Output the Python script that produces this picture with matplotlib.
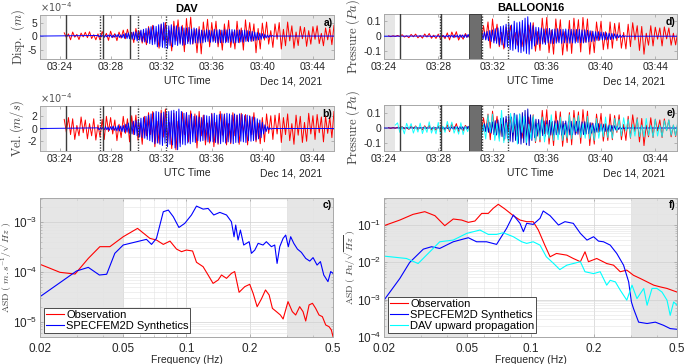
import numpy as np
import matplotlib
matplotlib.use('Agg')
import matplotlib.pyplot as plt
import matplotlib.dates as mdates
from matplotlib.ticker import NullFormatter

plt.rcParams['font.family'] = ['Liberation Sans', 'DejaVu Sans']
plt.rcParams['mathtext.fontset'] = 'dejavusans'

# ---------------- waveform data ----------------
# DAV displacement, observation (units 1e-5 m), every 10 s from 03:24:20
dav_disp_obs = [12, -5, 8, -14,
    15, -4, 6, -13, 11, -3,    14, -6, 16, -9, 5, -14,
    8, -15, 17, -4, 10, -16,   18, -6, 9, -17, 15, -8,
    22, -10, 25, -6, 14, -24,  28, -9, 18, -26, 10, -32,
    35, -12, 40, -20, 15, -45, 42, -15, 50, -35, 20, -55,
    55, -18, 60, -25, 40, -58, 65, -20, 70, -30, 25, -62,
    35, -66, 52, -15, 62, -40, 50, -18, 55, -40, 22, -52,
    45, -20, 58, -42, 15, -48, 55, -25, 30, -52, 60, -18,
    50, -20, 45, -62, 28, -48, 48, -15, 52, -30, 20, -42,
    45, -12, 50, -48, 25, -36, 52, -18, 38, -45, 15, -35,
    36, -10, 32, -38, 20, -30, 35, -12, 38, -28, 10, -36,
    30, -14, 28, -32, 40]
# DAV displacement, SPECFEM2D (units 1e-5 m), every 6 s from 03:27:00
dav_disp_syn = [2, -3, 4, -2, 3, -4, 3, -3, 4, -2,
    4, -5, 3, -4, 5, -3, 6, -5, 4, -6,
    7, -8, 10, -9, 12, -10, 14, -12, 15, -13,
    16, -18, 20, -15, 22, -20, 25, -22, 28, -25,
    30, -28, 35, -32, 38, -30, 36, -40, 42, -38,
    45, -42, 50, -44, 40, -46, 38, -35, 42, -40,
    36, -32, 38, -35, 33, -30, 35, -34, 30, -32,
    30, -28, 32, -30, 26, -28, 30, -25, 28, -26,
    24, -26, 22, -25, 20, -22, 24, -20, 22, -23,
    20, -22, 25, -24, 23, -26, 24, -25, 22, -24,
    24, -25, 23, -24, 25, -22, 24, -26, 23, -25,
    22, -24, 23, -22, 21, -23, 22, -20, 20, -21,
    18, -19, 17, -18, 15, -16, 13, -14, 11, -12,
    9, -8, 6, -7, 4, -5, 3, -2, 2, -1,
    0]
# DAV velocity, observation (units 1e-5 m/s), every 10 s from 03:24:20
dav_vel_obs = [15, -6, 18, -10,
    16, -18, 5, -12, 19, -7,    14, -17, 8, -12, 16, -19,
    6, -14, 15, -18, 20, -5,    18, -9, 14, -20, 7, -15,
    20, -8, 16, -22, 21, -10,   22, -19, 9, -26, 20, -12,
    26, -10, 28, -30, 12, -24,  30, -14, 32, -25, 10, -33,
    25, -35, 12, -24, 27, -10,  26, -22, 29, -8, 24, -32,
    28, -12, 22, -27, 9, -24,   25, -30, 10, -26, 28, -11,
    24, -27, 8, -25, 26, -12,   22, -26, 25, -8, 23, -27,
    21, -10, 26, -22, 9, -25,   18, -22, 24, -8, 21, -18,
    22, -9, 25, -23, 18, -10,   24, -20, 8, -26, 22, -11,
    20, -23, 10, -21, 25, -9,   21, -18, 23, -7, 19, -22,
    20, -8, 18, -15, 28]
# DAV velocity, SPECFEM2D (units 1e-5 m/s), every 6 s from 03:27:00
dav_vel_syn = [1, -2, 2, -1, 2, -2, 3, -2, 2, -3,
    3, -2, 4, -3, 3, -4, 5, -4, 4, -5,
    5, -6, 7, -6, 9, -8, 10, -9, 12, -10,
    13, -12, 15, -14, 17, -15, 18, -16, 20, -18,
    22, -20, 24, -22, 26, -25, 28, -24, 27, -26,
    25, -28, 27, -24, 26, -30, 28, -26, 29, -27,
    30, -32, 28, -35, 32, -30, 28, -26, 25, -27,
    26, -24, 22, -25, 24, -22, 20, -23, 21, -20,
    19, -21, 18, -20, 22, -19, 21, -22, 20, -21,
    24, -22, 25, -23, 22, -24, 23, -25, 24, -22,
    23, -24, 25, -22, 24, -23, 22, -25, 24, -23,
    22, -23, 24, -21, 23, -22, 21, -23, 22, -20,
    20, -21, 19, -20, 18, -19, 16, -17, 14, -15,
    10, -9, 6, -5, 3, -2, 1, -1, 0, 0,
    0]
# BALLOON16 pressure, observation (units 1e-3 Pa), every 10 s from 03:24:20
bal_obs = [2, -3, 3, -2,
    5, -2, 10, -6, 3, -10,         12, -4, 14, -11, 5, -13,
    15, -6, 18, -14, 7, -15,       14, -18, 6, -16, 22, -25,
    28, -10, 30, -26, 8, -20,      18, -6, 12, -14, 5, -12,
    30, -45, 70, -20, 95, -80,     115, -30, 80, -70, 25, -85,
    60, -20, 70, -50, 25, -60,     55, -70, 20, -65, 75, -30,
    90, -100, 30, -95, 120, -40,   125, -110, 40, -120, 115, -35,
    110, -125, 30, -100, 105, -115, 120, -35, 110, -105, 125, -40,
    115, -120, 35, -110, 95, -30,  100, -90, 30, -85, 95, -80,
    85, -30, 90, -80, 25, -85,     80, -70, 90, -25, 70, -95,
    65, -120, 20, -60, 70, -65,    60, -20, 55, -65, 62, -18,
    55, -60, 20, -58, 40]
# BALLOON16 pressure, SPECFEM2D (units 1e-3 Pa), every 6 s from 03:27:00
bal_syn = [1, -1, 2, -1, 2, -2, 1, -2, 2, -1,
    3, -4, 5, -3, 4, -6, 5, -4, 6, -5,
    6, -7, 8, -6, 7, -8, 9, -7, 8, -9,
    10, -8, 12, -10, 9, -11, 10, -12, 11, -9,
    15, -18, 22, -20, 28, -25, 32, -30, 38, -35,
    42, -45, 50, -48, 55, -60, 65, -58, 70, -75,
    80, -70, 85, -90, 75, -95, 100, -85, 90, -105,
    95, -110, 105, -100, 120, -115, 130, -120, 90, -85,
    70, -65, 60, -55, 58, -50, 55, -52, 48, -55,
    50, -45, 52, -48, 45, -50, 48, -46, 50, -44,
    45, -48, 46, -44, 48, -45, 44, -47, 46, -45,
    44, -46, 45, -43, 46, -44, 42, -45, 43, -41,
    40, -38, 36, -35, 32, -34, 30, -28, 30, -26,
    28, -25, 26, -24, 22, -25, 20, -22, 18, -20,
    16, -14, 12, -10, 8, -7, 5, -4, 2, -1,
    0]
# DAV upward propagation to balloon (units 1e-3 Pa), every 10 s from 03:24:50
bal_dav_up = [20,
    35, -30, 10, -40, 32, -8,    30, -35, 12, -28, 33, -38,
    10, -30, 42, -35, 8, -40,    38, -42, 12, -30, 45, -15,
    40, -35, 10, -42, 36, -45,   12, -25, 20, -8, 35, -40,
    60, -70, 25, -75, 90, -30,   95, -85, 30, -90, 120, -100,
    35, -95, 100, -30, 90, -110, 95, -30, 80, -100, 25, -75,
    85, -90, 30, -80, 75, -95,   25, -70, 90, -85, 30, -80,
    75, -85, 25, -70, 90, -75,   70, -25, 85, -65, 30, -70,
    80, -75, 20, -85, 65, -70,   25, -60, 75, -65, 20, -70,
    65, -20, 60, -55, 70, -20,   60, -65, 25, -55, 62, -58,
    20, -60, 65, -50, 18, -62,   60, -55, 20, -60, 50, -18,
    55, -50, 20, -52, 50]

# ---------------- spectra ----------------
dav_f_obs = [0.0200, 0.0223, 0.0249, 0.0294, 0.0340, 0.0386, 0.0431, 0.0499, 0.0584, 0.0669,
             0.0719, 0.0775, 0.0834, 0.0896, 0.0947, 0.0999, 0.1069, 0.1116, 0.1200, 0.1268,
             0.1339, 0.1416, 0.1469, 0.1552, 0.1638, 0.1698, 0.1782, 0.1897, 0.2003, 0.2079,
             0.2173, 0.2277, 0.2382, 0.2479, 0.2570, 0.2685, 0.2805, 0.2890, 0.3050, 0.3198,
             0.3318, 0.3467, 0.3597, 0.3705, 0.3845, 0.3990, 0.4133, 0.4288, 0.4449, 0.4615,
             0.4788, 0.4910, 0.5000]
dav_asd_obs = [1.43e-4, 1.19e-4, 9.85e-5, 9.1e-5, 1.88e-4, 3.24e-4, 3.24e-4, 5.14e-4, 7.57e-4, 4.76e-4,
               4.41e-4, 3.6e-4, 4.2e-4, 2.9e-4, 2.57e-4, 2.77e-4, 2.65e-4, 1.57e-4, 1.28e-4, 8.7e-5,
               5.9e-5, 6.9e-5, 8.7e-5, 7.45e-5, 9.4e-5, 1.02e-4, 3.9e-5, 5.07e-5, 5.65e-5, 3.72e-5,
               2.0e-5, 2.86e-5, 4.35e-5, 3.44e-5, 1.85e-5, 1.59e-5, 1.36e-5, 1.13e-5, 2.53e-5, 1.59e-5,
               1.36e-5, 2.0e-5, 1.59e-5, 1.03e-5, 2.17e-5, 2.34e-5, 1.85e-5, 1.36e-5, 1.26e-5, 8.57e-6,
               7.9e-6, 6.8e-6, 5.0e-6]
dav_f_syn = [0.0200, 0.0299, 0.0340, 0.0384, 0.0416, 0.0455, 0.0499, 0.0644, 0.0681, 0.0719,
             0.0775, 0.0819, 0.0865, 0.0920, 0.0981, 0.1056, 0.1116, 0.1200, 0.1268, 0.1349,
             0.1442, 0.1552, 0.1638, 0.1686, 0.1717, 0.1762, 0.1808, 0.1875, 0.1990, 0.2041,
             0.2118, 0.2197, 0.2319, 0.2404, 0.2541, 0.2636, 0.2705, 0.2786, 0.2890, 0.2974,
             0.3060, 0.3141, 0.3250, 0.3382, 0.3532, 0.3705, 0.3873, 0.4017, 0.4197, 0.4355,
             0.4518, 0.4731, 0.4875, 0.5000]
dav_asd_syn = [3.18e-5, 1.05e-4, 1.24e-4, 8.7e-5, 9.0e-5, 2.38e-4, 3.5e-4, 4.55e-4, 3.6e-4, 4.76e-4,
               1.64e-3, 1.77e-3, 1.30e-3, 7.9e-4, 9.55e-4, 1.41e-3, 2.13e-3, 1.85e-3, 1.91e-3, 1.41e-3,
               1.59e-3, 1.41e-3, 1.03e-3, 5.14e-4, 8.84e-4, 4.41e-4, 7.0e-4, 3.5e-4, 4.08e-4, 2.38e-4,
               2.77e-4, 3.78e-4, 3.5e-4, 4.08e-4, 3.24e-4, 3.5e-4, 1.49e-4, 3.24e-4, 4.76e-4, 5.56e-4,
               3.24e-4, 5.14e-4, 3.78e-4, 2.9e-4, 2.49e-4, 1.88e-4, 1.66e-4, 1.95e-4, 1.38e-4, 1.62e-4,
               8.7e-5, 6.4e-5, 1.02e-4, 9.4e-5]
bal_f_obs = [0.0200, 0.0238, 0.0275, 0.0313, 0.0350, 0.0390, 0.0428, 0.0469, 0.0505, 0.0543,
             0.0585, 0.0629, 0.0664, 0.0702, 0.0755, 0.0828, 0.0891, 0.0959, 0.103, 0.109,
             0.117, 0.124, 0.133, 0.149, 0.160, 0.173, 0.182, 0.189, 0.207, 0.231,
             0.249, 0.268, 0.288, 0.310, 0.334, 0.360, 0.387, 0.416, 0.448, 0.500]
bal_asd_obs = [0.096, 0.136, 0.193, 0.228, 0.178, 0.096, 0.145, 0.136, 0.118, 0.128,
               0.205, 0.205, 0.281, 0.359, 0.269, 0.178, 0.136, 0.123, 0.123, 0.0734,
               0.0290, 0.0141, 0.0173, 0.0156, 0.0127, 0.0104, 0.0192, 0.0104, 0.0127, 0.0093,
               0.0084, 0.0056, 0.0062, 0.0045, 0.0037, 0.0030, 0.00245, 0.0022, 0.0020, 0.0016]
bal_f_syn = [0.0200, 0.0238, 0.0265, 0.0308, 0.0337, 0.0369, 0.0428, 0.0505, 0.0553, 0.0617,
             0.0689, 0.0769, 0.0828, 0.0891, 0.0925, 0.0959, 0.103, 0.111, 0.115, 0.124,
             0.136, 0.146, 0.160, 0.173, 0.186, 0.200, 0.211, 0.223, 0.240, 0.258,
             0.278, 0.294, 0.303, 0.310, 0.328, 0.360, 0.394, 0.431, 0.464, 0.500]
bal_asd_syn = [9.7e-4, 3.7e-3, 9.9e-3, 0.0226, 0.0262, 0.0236, 0.0356, 0.0457, 0.0356, 0.0356,
               0.0303, 0.0813, 0.186, 0.111, 0.0662, 0.111, 0.104, 0.151, 0.238, 0.178,
               0.100, 0.123, 0.111, 0.0597, 0.0395, 0.0486, 0.0371, 0.0356, 0.0290, 0.0173,
               0.0084, 0.0030, 8.7e-4, 5.8e-4, 2.5e-4, 2.3e-4, 2.5e-4, 2.06e-4, 1.68e-4, 1.61e-4]
bal_f_up = [0.0200, 0.0256, 0.0291, 0.0337, 0.0369, 0.0428, 0.0496, 0.0574, 0.0629, 0.0689,
            0.0741, 0.0828, 0.0908, 0.0959, 0.103, 0.111, 0.119, 0.129, 0.138, 0.149,
            0.160, 0.173, 0.182, 0.200, 0.215, 0.231, 0.240, 0.254, 0.268, 0.288,
            0.305, 0.322, 0.347, 0.360, 0.380, 0.401, 0.424, 0.448, 0.464, 0.482, 0.500]
bal_asd_up = [0.0147, 0.0127, 0.0093, 0.0213, 0.0356, 0.0395, 0.0597, 0.0734, 0.0561, 0.0561,
              0.0622, 0.0486, 0.0356, 0.0322, 0.0356, 0.0290, 0.0141, 0.0093, 0.0064, 0.0084,
              0.0093, 0.0104, 0.0056, 0.0050, 0.0056, 0.00245, 0.0033, 0.0030, 0.0018, 9.7e-4,
              0.00245, 1.07e-3, 0.0020, 7.1e-4, 0.0020, 0.0020, 0.0016, 9.7e-4, 3.8e-4, 8.7e-4, 7.1e-4]

# picked arrivals (solid) and dotted markers
dav_solid = ['03:24:27', '03:27:24', '03:29:30']
dav_dotted = ['03:27:12', '03:30:12', '03:32:24']
bal_solid = ['03:25:10', '03:28:10']
bal_dotted = ['03:28:06', '03:31:12', '03:33:10']
bal_window = ('03:30:14', '03:31:09')


def hm(s):
    return np.datetime64('2021-12-14T' + s)


def tgrid(start, n, step):
    return hm(start) + np.arange(n) * np.timedelta64(step, 's')


W, H = 685, 364
fig = plt.figure(figsize=(W / 100, H / 100), dpi=100)


def px_axes(l, t, r, b):
    return fig.add_axes([l / W, 1 - b / H, (r - l) / W, (b - t) / H])


FRAME = '#a8a8a8'
TXT = '#262626'
GRAY = '#e6e6e6'


def style(ax, size):
    for s in ax.spines.values():
        s.set_color(FRAME)
        s.set_linewidth(0.7)
    ax.tick_params(direction='in', top=True, right=True, colors=FRAME,
                   labelcolor=TXT, labelsize=size, length=2.5, width=0.6, pad=2)
    ax.tick_params(which='minor', direction='in', top=True, right=True,
                   colors=FRAME, length=1.5, width=0.4)


def time_panel(ax, xlim, shade, ylim, yticks, yticklabels, ylabel, letter,
               solids, dots, window=None, expo=None):
    ax.set_xlim(hm(xlim[0]), hm(xlim[1]))
    ax.set_ylim(*ylim)
    ax.axvspan(hm(xlim[0]), hm(shade[0]), color=GRAY, lw=0, zorder=0)
    ax.axvspan(hm(shade[1]), hm(xlim[1]), color=GRAY, lw=0, zorder=0)
    if window:
        ax.axvspan(hm(window[0]), hm(window[1]), facecolor='#6e6e6e',
                   edgecolor='#303030', lw=0.6, zorder=5)
    for s in solids:
        ax.axvline(hm(s), color='#3c3c3c', lw=1.0, zorder=6)
    for s in dots:
        ax.axvline(hm(s), color='#3c3c3c', lw=1.0, ls=(0, (1, 1)), zorder=6)
    ax.set_yticks(yticks)
    ax.set_yticklabels(yticklabels)
    ax.xaxis.set_major_locator(mdates.MinuteLocator(byminute=range(0, 60, 4)))
    ax.xaxis.set_major_formatter(mdates.DateFormatter('%H:%M'))
    style(ax, 7.5)
    ax.set_ylabel(ylabel, fontsize=9, color='#404040', math_fontfamily='cm', labelpad=1)
    ax.annotate('UTC Time', (0.5, 0), xycoords='axes fraction', xytext=(0, -16),
                textcoords='offset points', ha='center', va='center', fontsize=7.5, color=TXT)
    ax.annotate('Dec 14, 2021', (0.96, 0), xycoords='axes fraction', xytext=(0, -16),
                textcoords='offset points', ha='right', va='center', fontsize=7.5, color=TXT)
    ax.text(0.995, 0.93, letter, transform=ax.transAxes, ha='right', va='top',
            fontsize=7.5, fontweight='bold', zorder=10)
    if expo:
        ax.text(0.0, 1.02, expo, transform=ax.transAxes, ha='left', va='bottom',
                fontsize=7, color='#505050')


def spec_panel(ax, ylim, ylabel, letter):
    ax.set_xscale('log')
    ax.set_yscale('log')
    ax.set_xlim(0.02, 0.5)
    ax.set_ylim(*ylim)
    ax.axvspan(0.02, 0.05, color=GRAY, lw=0, zorder=0)
    ax.axvspan(0.3, 0.5, color=GRAY, lw=0, zorder=0)
    ax.set_axisbelow(True)
    ax.grid(True, which='major', color='#d0d0d0', lw=0.5)
    ax.grid(True, which='minor', color='#e4e4e4', lw=0.4)
    ax.set_xticks([0.02, 0.05, 0.1, 0.2, 0.5])
    ax.set_xticklabels(['0.02', '0.05', '0.1', '0.2', '0.5'])
    ax.xaxis.set_minor_formatter(NullFormatter())
    ax.yaxis.set_minor_formatter(NullFormatter())
    style(ax, 8.5)
    ax.tick_params(axis='x', pad=4)
    ax.set_xlabel('Frequency (Hz)', fontsize=7.5, color=TXT, labelpad=0.5)
    ax.set_ylabel(ylabel, fontsize=7, color='#404040', math_fontfamily='cm')
    ax.yaxis.set_label_coords(-26 / 293, 0.5)
    ax.text(0.995, 0.985, letter, transform=ax.transAxes, ha='right', va='top',
            fontsize=7.5, fontweight='bold', zorder=10)


def baseline(t, v, lim):
    tt = np.concatenate([[hm(lim[0])], t, [hm(lim[1])]])
    vv = np.concatenate([[0], v, [0]])
    return tt, vv


def add_legend(ax):
    leg = ax.legend(loc='lower left', fontsize=8, frameon=True, fancybox=False, framealpha=1,
                    edgecolor='#303030', borderaxespad=0.4, handlelength=1.6,
                    handletextpad=0.2, labelspacing=0.1, borderpad=0.15)
    leg.get_frame().set_linewidth(0.6)


dav_lim = ('03:22:25', '03:45:40')
bal_lim = ('03:24:00', '03:45:36')
LW = 0.7

# a) DAV displacement
ax = px_axes(40, 15, 334, 59)
ax.plot(tgrid('03:24:20', len(dav_disp_obs), 10), np.array(dav_disp_obs) / 10,
        color='red', lw=LW, zorder=2)
tb, vb = baseline(tgrid('03:27:00', len(dav_disp_syn), 6), np.array(dav_disp_syn) / 10, dav_lim)
ax.plot(tb, vb, color='blue', lw=LW, zorder=3)
time_panel(ax, dav_lim, ('03:22:57', '03:41:30'), (-8.5, 7.8), [-5, 0, 5], ['-5', '0', '5'],
           r'$\mathrm{Disp.}\ (m)$', 'a)', dav_solid, dav_dotted, expo=r'$\times10^{-4}$')
ax.set_title('DAV', fontsize=8, fontweight='bold', pad=2)

# b) DAV velocity
ax = px_axes(40, 106, 334, 151)
ax.plot(tgrid('03:24:20', len(dav_vel_obs), 10), np.array(dav_vel_obs) / 10,
        color='red', lw=LW, zorder=2)
tb, vb = baseline(tgrid('03:27:00', len(dav_vel_syn), 6), np.array(dav_vel_syn) / 10, dav_lim)
ax.plot(tb, vb, color='blue', lw=LW, zorder=3)
time_panel(ax, dav_lim, ('03:22:57', '03:41:30'), (-3.7, 3.7), [-2, 0, 2], ['-2', '0', '2'],
           r'$\mathrm{Vel.}(m/s)$', 'b)', dav_solid, dav_dotted, expo=r'$\times10^{-4}$')

# d) BALLOON16 pressure
ax = px_axes(384, 14, 677, 59)
ax.plot(tgrid('03:24:20', len(bal_obs), 10), np.array(bal_obs) / 1000,
        color='red', lw=LW, zorder=2)
tb, vb = baseline(tgrid('03:27:00', len(bal_syn), 6), np.array(bal_syn) / 1000, bal_lim)
ax.plot(tb, vb, color='blue', lw=LW, zorder=3)
time_panel(ax, bal_lim, ('03:24:48', '03:42:08'), (-0.152, 0.148), [-0.1, 0, 0.1],
           ['-0.1', '0', '0.1'], r'$\mathrm{Pressure}\ (Pa)$', 'd)', bal_solid, bal_dotted,
           window=bal_window)
ax.set_title('BALLOON16', fontsize=8, fontweight='bold', pad=2)

# e) BALLOON16 pressure with DAV upward propagation
ax = px_axes(384, 105, 677, 151)
ax.plot(tgrid('03:24:20', len(bal_obs), 10), np.array(bal_obs) / 1000,
        color='red', lw=LW, zorder=2)
tb, vb = baseline(tgrid('03:27:00', len(bal_syn), 6), np.array(bal_syn) / 1000, bal_lim)
ax.plot(tb, vb, color='#0000c8', lw=LW, zorder=3)
ax.plot(tgrid('03:24:50', len(bal_dav_up), 10), np.array(bal_dav_up) / 1000, color='cyan',
        lw=LW, zorder=4, alpha=0.9)
time_panel(ax, bal_lim, ('03:24:48', '03:42:08'), (-0.157, 0.157), [-0.1, 0, 0.1],
           ['-0.1', '0', '0.1'], r'$\mathrm{Pressure}\ (Pa)$', 'e)', bal_solid, bal_dotted,
           window=bal_window)

# c) DAV spectra
ax = px_axes(40, 198, 333, 337)
ax.plot(dav_f_obs, dav_asd_obs, color='red', lw=0.8, label='Observation')
ax.plot(dav_f_syn, dav_asd_syn, color='blue', lw=0.8, label='SPECFEM2D Synthetics')
spec_panel(ax, (4.9e-6, 3.1e-3), r'$\mathrm{ASD}\ (\ m.s^{-1}/\sqrt{Hz}\ )$', 'c)')
add_legend(ax)

# f) BALLOON16 spectra
ax = px_axes(384, 198, 677, 337)
ax.plot(bal_f_obs, bal_asd_obs, color='red', lw=0.8, label='Observation')
ax.plot(bal_f_syn, bal_asd_syn, color='blue', lw=0.8, label='SPECFEM2D Synthetics')
ax.plot(bal_f_up, bal_asd_up, color='cyan', lw=0.8, label='DAV upward propagation')
spec_panel(ax, (1e-4, 0.53), r'$\mathrm{ASD}\ (\ Pa/\sqrt{Hz}\ )$', 'f)')
add_legend(ax)

fig.savefig('out.png', dpi=100)
